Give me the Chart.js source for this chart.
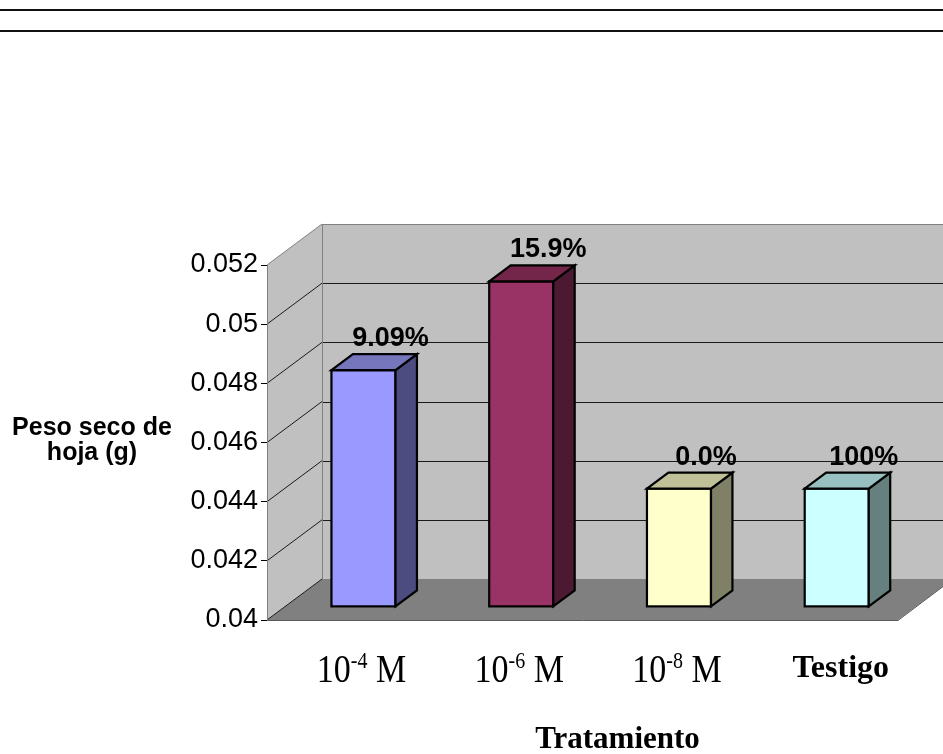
<!DOCTYPE html>
<html>
<head>
<meta charset="utf-8">
<script src="https://cdn.jsdelivr.net/npm/chart.js@4.4.0/dist/chart.umd.min.js"></script>
<style>
  html, body { margin: 0; padding: 0; background: #fff; }
  #wrap { position: relative; width: 943px; height: 754px; overflow: hidden; }
  #wrap canvas { position: absolute; left: 0; top: 0; }
  .rule { position: absolute; left: 0; width: 943px; height: 2px; background: #111; }
</style>
</head>
<body>
<div id="wrap">
  <canvas id="chart" width="943" height="754"></canvas>
  <div class="rule" style="top:9px"></div>
  <div class="rule" style="top:30px"></div>
</div>
<script>
// Leaf dry weight per treatment
const categories = ['10^-4 M', '10^-6 M', '10^-8 M', 'Testigo'];
const pesoSeco = [0.048, 0.051, 0.044, 0.044];
const pctLabels = ['9.09%', '15.9%', '0.0%', '100%'];
const yTicks = [0.04, 0.042, 0.044, 0.046, 0.048, 0.05, 0.052];
const yTickLabels = ['0.04', '0.042', '0.044', '0.046', '0.048', '0.05', '0.052'];
const yTitle = ['Peso seco de', 'hoja (g)'];
const xTitle = 'Tratamiento';

// face colours: front, side, top
const frontColors = ['#9999FF', '#993366', '#FFFFCC', '#CCFFFF'];
const sideColors  = ['#4C4C80', '#4C1933', '#808066', '#668080'];
const topColors   = ['#7676BC', '#732649', '#C0C099', '#99C0C0'];

// oblique depth of the plot box and where the bars sit inside it
const DEPTH = { x: 55, y: -41 };
const BAR_FRONT = 0.32, BAR_BACK = 0.71;

const px = v => Math.round(v) + 0.5;

const box3d = {
  id: 'box3d',
  beforeDraw(chart) {
    const { ctx, chartArea: a, scales: { y } } = chart;
    const L = a.left, R = a.right;
    const T = y.getPixelForValue(yTicks[yTicks.length - 1]);
    const B = y.getPixelForValue(yTicks[0]);
    const dx = DEPTH.x, dy = DEPTH.y;
    ctx.save();
    // back wall
    ctx.fillStyle = '#C0C0C0';
    ctx.fillRect(L + dx, T + dy, R - L, B - T);
    // side wall
    ctx.beginPath();
    ctx.moveTo(L, T); ctx.lineTo(L + dx, T + dy); ctx.lineTo(L + dx, B + dy); ctx.lineTo(L, B);
    ctx.closePath(); ctx.fill();
    // floor
    ctx.fillStyle = '#808080';
    ctx.beginPath();
    ctx.moveTo(L, B); ctx.lineTo(L + dx, B + dy); ctx.lineTo(R + dx, B + dy); ctx.lineTo(R, B);
    ctx.closePath(); ctx.fill();

    // gridlines on back wall and side wall
    ctx.lineWidth = 1;
    ctx.strokeStyle = '#1a1a1a';
    yTicks.forEach(v => {
      if (v <= yTicks[0] || v >= yTicks[yTicks.length - 1]) return;
      const yy = y.getPixelForValue(v);
      ctx.beginPath();
      ctx.moveTo(L + dx, px(yy + dy)); ctx.lineTo(R + dx, px(yy + dy));
      ctx.moveTo(L, yy); ctx.lineTo(L + dx, yy + dy);
      ctx.stroke();
    });
    // floor/side seam
    ctx.beginPath();
    ctx.moveTo(L, B); ctx.lineTo(L + dx, B + dy);
    ctx.stroke();

    // wall edges
    ctx.strokeStyle = '#808080';
    ctx.beginPath();
    ctx.moveTo(L, T); ctx.lineTo(L + dx, T + dy);
    ctx.moveTo(px(L + dx), T + dy); ctx.lineTo(px(L + dx), B + dy);
    ctx.moveTo(L + dx, px(T + dy)); ctx.lineTo(R + dx, px(T + dy));
    ctx.stroke();
    // floor outline
    ctx.strokeStyle = '#5a5a5a';
    ctx.beginPath();
    ctx.moveTo(L, px(B)); ctx.lineTo(R, px(B)); ctx.lineTo(R + dx, B + dy);
    ctx.stroke();
    ctx.restore();
  },
  beforeDatasetsDraw(chart) {
    chart.ctx.save();
    chart.ctx.translate(DEPTH.x * BAR_FRONT, DEPTH.y * BAR_FRONT);
  },
  afterDatasetsDraw(chart) {
    const ctx = chart.ctx;
    ctx.restore();
    const ox = DEPTH.x * BAR_FRONT, oy = DEPTH.y * BAR_FRONT;
    const sx = DEPTH.x * (BAR_BACK - BAR_FRONT), sy = DEPTH.y * (BAR_BACK - BAR_FRONT);
    const meta = chart.getDatasetMeta(0);
    ctx.save();
    ctx.lineWidth = 2.2;
    ctx.lineJoin = 'miter';
    ctx.strokeStyle = '#000';
    meta.data.forEach((el, i) => {
      const { x, y, base, width } = el.getProps(['x', 'y', 'base', 'width'], true);
      const l = x - width / 2 + ox, r = x + width / 2 + ox;
      const t = y + oy, b = base + oy;
      // front face outline
      ctx.strokeRect(l, t, r - l, b - t);
      // side face
      ctx.fillStyle = sideColors[i];
      ctx.beginPath();
      ctx.moveTo(r, t); ctx.lineTo(r + sx, t + sy); ctx.lineTo(r + sx, b + sy); ctx.lineTo(r, b);
      ctx.closePath(); ctx.fill(); ctx.stroke();
      // top face
      ctx.fillStyle = topColors[i];
      ctx.beginPath();
      ctx.moveTo(l, t); ctx.lineTo(l + sx, t + sy); ctx.lineTo(r + sx, t + sy); ctx.lineTo(r, t);
      ctx.closePath(); ctx.fill(); ctx.stroke();
    });
    ctx.restore();
  },
  afterDraw(chart) {
    const { ctx, chartArea: a, scales: { y } } = chart;
    const meta = chart.getDatasetMeta(0);
    const ox = DEPTH.x * BAR_FRONT, oy = DEPTH.y * BAR_FRONT;
    ctx.save();
    ctx.fillStyle = '#000';

    // value labels above the bars
    ctx.font = 'bold 27px "Liberation Sans", Arial, sans-serif';
    ctx.textAlign = 'center';
    ctx.textBaseline = 'alphabetic';
    meta.data.forEach((el, i) => {
      ctx.fillText(pctLabels[i], el.x + ox + 27, el.y + oy - 24);
    });

    // category labels (with superscript exponents)
    const catBase = 682;
    meta.data.forEach((el, i) => {
      const cx = el.x + ox - 2;
      const m = /^(\d+)\^(\S+)\s+(.*)$/.exec(categories[i]);
      if (m) {
        const big = '34px "Liberation Serif", "Times New Roman", serif';
        const small = '20px "Liberation Serif", "Times New Roman", serif';
        ctx.font = big; const w1 = ctx.measureText(m[1]).width; const w3 = ctx.measureText(' ' + m[3]).width;
        ctx.font = small; const w2 = ctx.measureText(m[2]).width;
        const x0 = cx - (w1 + w2 + w3) / 2;
        ctx.save();
        ctx.translate(0, catBase);
        ctx.scale(1, 1.18);
        ctx.textAlign = 'left';
        ctx.font = big; ctx.fillText(m[1], x0, 0);
        ctx.font = small; ctx.fillText(m[2], x0 + w1, -12);
        ctx.font = big; ctx.fillText(' ' + m[3], x0 + w1 + w2, 0);
        ctx.restore();
      } else {
        ctx.font = 'bold 32px "Liberation Serif", "Times New Roman", serif';
        ctx.textAlign = 'center';
        ctx.fillText(categories[i], cx + 6, catBase - 5);
      }
    });

    // axis titles
    ctx.textAlign = 'center';
    ctx.font = 'bold 25px "Liberation Sans", Arial, sans-serif';
    const yMid = (y.top + y.bottom) / 2;
    ctx.fillText(yTitle[0], 92, yMid - 8);
    ctx.fillText(yTitle[1], 92, yMid + 17);

    ctx.font = 'bold 31px "Liberation Serif", "Times New Roman", serif';
    ctx.fillText(xTitle, (a.left + a.right) / 2 + 35, 748);
    ctx.restore();
  }
};

new Chart(document.getElementById('chart'), {
  type: 'bar',
  data: {
    labels: categories,
    datasets: [{
      data: pesoSeco,
      base: yTicks[0],
      backgroundColor: frontColors,
      borderColor: '#000',
      borderWidth: 0,
      borderSkipped: false,
      categoryPercentage: 1,
      barPercentage: 0.406,
      clip: false
    }]
  },
  options: {
    responsive: false,
    animation: false,
    events: [],
    layout: { padding: { left: 0, right: 45, top: 265, bottom: 134 } },
    plugins: { legend: { display: false }, tooltip: { enabled: false }, title: { display: false } },
    scales: {
      x: { type: 'category', display: false },
      y: {
        min: yTicks[0],
        max: yTicks[yTicks.length - 1],
        afterFit(scale) { scale.width = 267; },
        afterBuildTicks(scale) { scale.ticks = yTicks.map(v => ({ value: v })); },
        ticks: {
          callback: (v, i) => yTickLabels[i],
          color: '#000',
          font: { family: '"Liberation Sans", Arial, sans-serif', size: 27 },
          padding: 3
        },
        grid: { drawOnChartArea: false, drawTicks: true, tickLength: 6, tickColor: '#000', color: '#000' },
        border: { display: true, color: '#808080', width: 1 }
      }
    }
  },
  plugins: [box3d]
});
</script>
</body>
</html>
